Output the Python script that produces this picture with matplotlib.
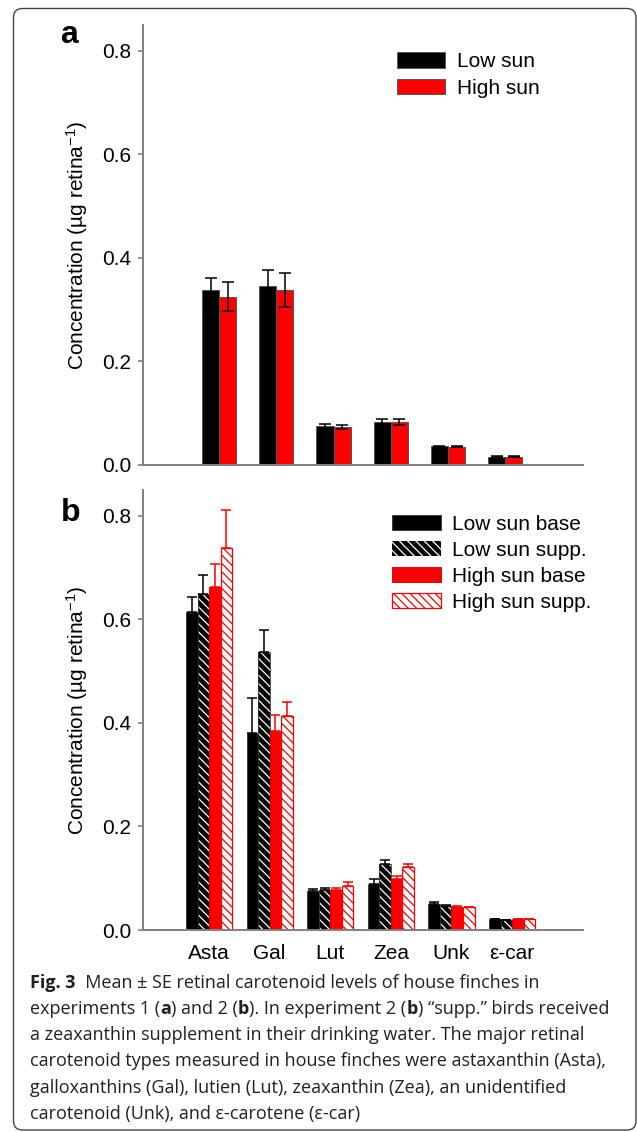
import numpy as np
import matplotlib
matplotlib.use("Agg")
import matplotlib.pyplot as plt
import matplotlib.patches as mpatches
from matplotlib.patches import FancyBboxPatch
from matplotlib.transforms import IdentityTransform

# ---------------- data ----------------
categories = ['Asta', 'Gal', 'Lut', 'Zea', 'Unk', 'ε-car']

# panel a (experiment 1)
a_low = [0.338, 0.345, 0.075, 0.083, 0.036, 0.0155]
a_low_se = [0.023, 0.031, 0.005, 0.006, 0.001, 0.001]
a_high = [0.325, 0.338, 0.074, 0.083, 0.035, 0.016]
a_high_se = [0.028, 0.033, 0.004, 0.006, 0.001, 0.001]
a_labels = ['Low sun', 'High sun']

# panel b (experiment 2)
b_low_base = [0.614, 0.380, 0.076, 0.088, 0.050, 0.021]
b_low_base_se = [0.029, 0.068, 0.004, 0.010, 0.005, 0.0]
b_low_supp = [0.650, 0.538, 0.078, 0.128, 0.047, 0.019]
b_low_supp_se = [0.036, 0.042, 0.004, 0.008, 0.002, 0.0]
b_high_base = [0.662, 0.384, 0.078, 0.098, 0.045, 0.021]
b_high_base_se = [0.046, 0.032, 0.004, 0.006, 0.001, 0.0]
b_high_supp = [0.738, 0.413, 0.0855, 0.122, 0.044, 0.021]
b_high_supp_se = [0.073, 0.027, 0.007, 0.006, 0.001, 0.0]
b_labels = ['Low sun base', 'Low sun supp.', 'High sun base', 'High sun supp.']

yticks = [0.0, 0.2, 0.4, 0.6, 0.8]
ylabel = 'Concentration (µg retina$^{-1}$)'

caption_lines = [
    [("Fig. 3", True), ("  Mean ± SE retinal carotenoid levels of house finches in", False)],
    [("experiments 1 (", False), ("a", True), (") and 2 (", False), ("b", True),
     ("). In experiment 2 (", False), ("b", True), (") “supp.” birds received", False)],
    [("a zeaxanthin supplement in their drinking water. The major retinal", False)],
    [("carotenoid types measured in house finches were astaxanthin (Asta),", False)],
    [("galloxanthins (Gal), lutien (Lut), zeaxanthin (Zea), an unidentified", False)],
    [("carotenoid (Unk), and ε-carotene (ε-car)", False)],
]

# ---------------- style ----------------
W, H = 637, 1132
DPI = 100
plt.rcParams['font.family'] = ['Liberation Sans', 'DejaVu Sans']
plt.rcParams['mathtext.fontset'] = 'custom'
plt.rcParams['mathtext.rm'] = 'Liberation Sans'
plt.rcParams['mathtext.it'] = 'Liberation Sans'
plt.rcParams['hatch.linewidth'] = 0.9
FS = 15
GRAY = '#808080'
RED = '#ff0000'
HATCH = '\\\\\\\\'

fig = plt.figure(figsize=(W / DPI, H / DPI), dpi=DPI)

def fx(px):
    return px / W

def fy(py):
    return 1 - py / H

def style_axes(ax, xlim):
    ax.set_ylim(0, 0.85)
    ax.set_xlim(*xlim)
    ax.set_yticks(yticks)
    ax.set_yticklabels([f'{t:.1f}' for t in yticks], fontsize=FS)
    for s in ['top', 'right']:
        ax.spines[s].set_visible(False)
    for s in ['left', 'bottom']:
        ax.spines[s].set_color(GRAY)
        ax.spines[s].set_linewidth(1.4)
    ax.tick_params(axis='y', direction='out', length=3.5, width=1.2, color=GRAY, pad=5)
    ax.tick_params(axis='x', length=0, pad=10, labelsize=FS)
    ax.set_ylabel(ylabel, fontsize=FS)
    ax.yaxis.set_label_coords(-0.15, 0.5)
    ax.yaxis.label.set_verticalalignment('center')

x = np.arange(len(categories))

# ---------------- panel a ----------------
axa = fig.add_axes([fx(143), fy(465), fx(583) - fx(143), fy(25) - fy(465)])
wa = 0.30
ekw_a = dict(ecolor='black', elinewidth=1.1, capsize=4.5, capthick=1.1)
axa.bar(x - wa / 2, a_low, wa, color='black', edgecolor='#555555', linewidth=0.7,
        yerr=a_low_se, error_kw=ekw_a, zorder=2)
axa.bar(x + wa / 2, a_high, wa, color=RED, edgecolor='#555555', linewidth=0.7,
        yerr=a_high_se, error_kw=ekw_a, zorder=2)
style_axes(axa, (-1.33, 6.36))
axa.set_xticks([])
handles_a = [mpatches.Patch(facecolor='black', edgecolor='#555555', linewidth=0.7),
             mpatches.Patch(facecolor=RED, edgecolor='#555555', linewidth=0.7)]
axa.legend(handles_a, a_labels, loc='upper left', bbox_to_anchor=(fx(397), fy(52)),
           bbox_transform=fig.transFigure, frameon=False, borderpad=0, borderaxespad=0,
           fontsize=FS, handlelength=2.3, handleheight=0.78, handletextpad=0.6,
           labelspacing=0.36)

# ---------------- panel b ----------------
axb = fig.add_axes([fx(143), fy(930), fx(583) - fx(143), fy(490) - fy(930)])
wb = 0.19
offs = np.array([-1.5, -0.5, 0.5, 1.5]) * wb

def upper(se):
    return [np.zeros(len(se)), se]

ekw_k = dict(ecolor='black', elinewidth=1.1, capsize=3.8, capthick=1.1)
ekw_r = dict(ecolor=RED, elinewidth=1.1, capsize=3.8, capthick=1.1)

# low sun base
axb.bar(x + offs[0], b_low_base, wb, color='black', edgecolor='#333333', linewidth=0.6,
        yerr=upper(b_low_base_se), error_kw=ekw_k, zorder=2)
# low sun supp (black with white hatch)
axb.bar(x + offs[1], b_low_supp, wb, facecolor='black', edgecolor='white', hatch=HATCH,
        linewidth=0, zorder=2)
axb.bar(x + offs[1], b_low_supp, wb, fill=False, edgecolor='#333333', linewidth=0.6,
        yerr=upper(b_low_supp_se), error_kw=ekw_k, zorder=2)
# high sun base
axb.bar(x + offs[2], b_high_base, wb, color=RED, edgecolor='#cc0000', linewidth=0.6,
        yerr=upper(b_high_base_se), error_kw=ekw_r, zorder=2)
# high sun supp (white with red hatch)
axb.bar(x + offs[3], b_high_supp, wb, facecolor='white', edgecolor=RED, hatch=HATCH,
        linewidth=0.9, yerr=upper(b_high_supp_se), error_kw=ekw_r, zorder=2)
style_axes(axb, (-1.09, 6.17))
axb.set_xticks(x)
axb.set_xticklabels(categories, fontsize=FS)

handles_b = [mpatches.Patch(facecolor='black', edgecolor='#333333', linewidth=0.6),
             mpatches.Patch(facecolor='black', edgecolor='white', hatch=HATCH, linewidth=0),
             mpatches.Patch(facecolor=RED, edgecolor='#cc0000', linewidth=0.6),
             mpatches.Patch(facecolor='white', edgecolor=RED, hatch=HATCH, linewidth=0.9)]
axb.legend(handles_b, b_labels, loc='upper left', bbox_to_anchor=(fx(392), fy(515)),
           bbox_transform=fig.transFigure, frameon=False, borderpad=0, borderaxespad=0,
           fontsize=FS, handlelength=2.35, handleheight=0.75, handletextpad=0.55,
           labelspacing=0.33)

# panel letters
fig.text(fx(60), fy(43), 'a', fontsize=23, fontweight='bold', va='baseline', ha='left')
fig.text(fx(61), fy(521), 'b', fontsize=23, fontweight='bold', va='baseline', ha='left')

# ---------------- caption ----------------
renderer = fig.canvas.get_renderer()
CAP_FONT = ['Open Sans', 'DejaVu Sans']
CAP_FS = 13.0
CAP_COLOR = '#231f20'
baselines = [988, 1014, 1040, 1066, 1093, 1119]
for segs, yb in zip(caption_lines, baselines):
    xp = 30
    for s, bold in segs:
        t = fig.text(fx(xp), fy(yb), s, fontsize=CAP_FS, family=CAP_FONT,
                     fontweight='bold' if bold else 'normal', color=CAP_COLOR,
                     va='baseline', ha='left')
        bb = t.get_window_extent(renderer)
        xp += bb.width

# outer rounded border (pixel coordinates)
border = FancyBboxPatch((13.5, H - 1130), 636 - 13.5, 1130 - 8.5,
                        boxstyle='round,pad=0,rounding_size=9', transform=IdentityTransform(),
                        facecolor='none', edgecolor='#444444', linewidth=1.0)
fig.patches.append(border)

fig.savefig('out.png', dpi=DPI)
